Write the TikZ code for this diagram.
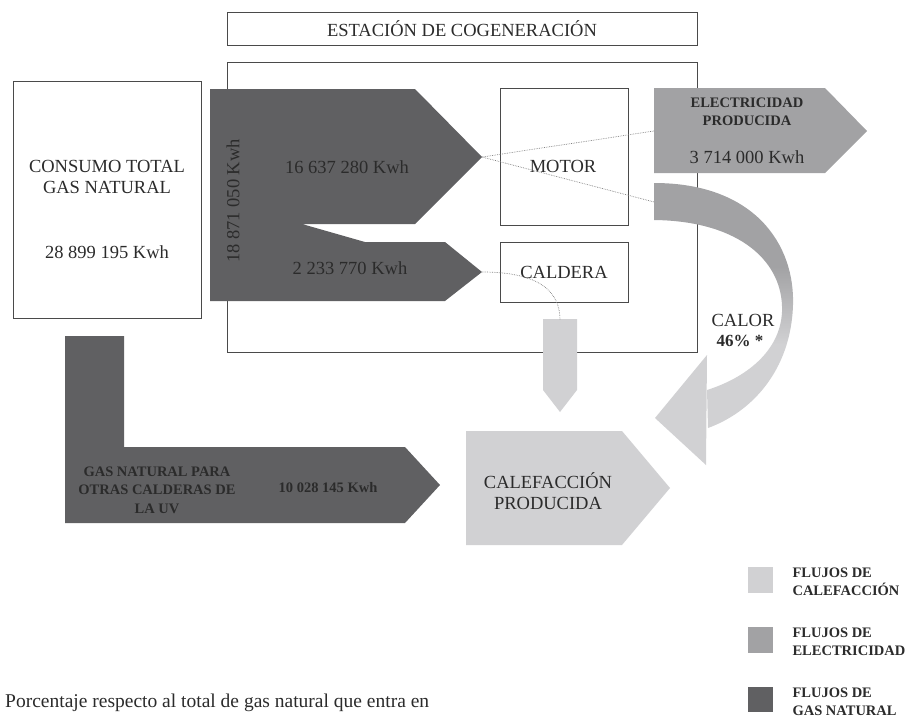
\documentclass[tikz,border=0pt]{standalone}
\usepackage{fontspec}
\setmainfont{Liberation Serif}
\usepackage{xcolor}
\usetikzlibrary{positioning}
\definecolor{gasgray}{HTML}{606062}
\definecolor{elecgray}{HTML}{A2A2A4}
\definecolor{heatgray}{HTML}{D1D1D3}
\definecolor{inkgray}{HTML}{2B2B2B}
\definecolor{framegray}{HTML}{4A4A4A}
\pgfdeclareverticalshading{calorshade}{100bp}{color(0bp)=(heatgray); color(42bp)=(heatgray); color(58bp)=(elecgray); color(100bp)=(elecgray)}
\tikzset{
	frame/.style={draw=framegray, line width=0.8pt},
	flowtext/.style={text=inkgray, align=center, font=\fontsize{18.5}{21}\selectfont},
	boldtext/.style={text=inkgray, align=center, font=\bfseries\fontsize{14.5}{18.5}\selectfont},
	dotline/.style={draw=gray, densely dotted, line width=0.7pt}
}

\begin{document}
\begin{tikzpicture}[x=1pt, y=-1pt]
		\useasboundingbox (0,0) rectangle (908,718);
		%
		%Estacion de cogeneracion
		\node[frame, flowtext, minimum width=470pt, minimum height=33pt] (title) at (462,28.5) {ESTACIÓN DE COGENERACIÓN};
		\node[frame, minimum width=470pt, minimum height=290pt] (station) at (462,207) {};
		%
		%Consumo total
		\node[frame, minimum width=188pt, minimum height=237pt] (consumo) at (107,199.5) {};
		\node[flowtext] (consumotxt) at (107,177) {CONSUMO TOTAL\\GAS NATURAL};
		\node[flowtext] (consumokwh) at (107,252) {28 899 195 Kwh};
		%
		%Gas natural a la estacion
		\fill[gasgray] (210,89) -- (415,89) -- (482,157) coordinate (motorin) -- (415,224) -- (302,224) -- (365,242) -- (445,242) -- (482,272) coordinate (calderain) -- (445,301) -- (210,301) -- cycle;
		\node[flowtext, rotate=90] (gastotal) at (233,201) {18 871 050 Kwh};
		\node[flowtext] (gasmotor) at (347,167) {16 637 280 Kwh};
		\node[flowtext] (gascaldera) at (350,268) {2 233 770 Kwh};
		%
		%Motor y caldera
		\node[frame, minimum width=128pt, minimum height=137pt] (motor) at (564,156.5) {};
		\node[flowtext] (motortxt) at (563,166) {MOTOR};
		\node[frame, flowtext, minimum width=128pt, minimum height=60pt] (caldera) at (564,272) {CALDERA};
		%
		%Electricidad
		\fill[elecgray] (654,88) -- (825,88) -- (867,131) -- (825,173) -- (654,173) -- cycle;
		\coordinate (elecin) at (654,131);
		\node[boldtext] (electxt) at (747,112) {ELECTRICIDAD\\PRODUCIDA};
		\node[flowtext] (eleckwh) at (747,157) {3 714 000 Kwh};
		%
		%Calor
		\shade[shading=calorshade] (654,183) .. controls (755,183) and (795,245) .. (793,305) .. controls (791,370) and (752,412) .. (708,428) -- (707,390) .. controls (745,378) and (780,352) .. (782,312) .. controls (784,262) and (740,221) .. (654,220) -- cycle;
		\fill[heatgray] (707,355) -- (655,418) -- (706,465) -- cycle;
		\coordinate (calorin) at (654,202);
		\node[flowtext] (calortxt) at (743,320) {CALOR};
		\node[flowtext, font=\bfseries\fontsize{17}{20}\selectfont] (calorpct) at (740,341) {46\% *};
		%
		%Calor de la caldera
		\fill[heatgray] (543,319) -- (577,319) -- (577,390) -- (560,412) -- (543,390) -- cycle;
		\coordinate (calderaout) at (560,320);
		%
		%Calefaccion producida
		\fill[heatgray] (466,431) -- (622,431) -- (670,488) -- (622,545) -- (466,545) -- cycle;
		\node[flowtext] (calefaccion) at (548,491) {CALEFACCIÓN\\PRODUCIDA};
		%
		%Gas natural para otras calderas
		\fill[gasgray] (65,336) -- (124,336) -- (124,447) -- (405,447) -- (440,485) -- (405,523) -- (65,523) -- cycle;
		\node[boldtext] (otrastxt) at (157,490) {GAS NATURAL PARA\\OTRAS CALDERAS DE\\LA UV};
		\node[boldtext] (otraskwh) at (328,488) {10 028 145 Kwh};
		%
		%Conexiones
		\draw[dotline] (motorin) -- (elecin);
		\draw[dotline] (motorin) -- (calorin);
		\draw[dotline] (calderain) .. controls (540,272) and (560,292) .. (calderaout);
		%
		%Leyenda
		\fill[heatgray] (748,567) rectangle (773,593);
		\node[boldtext, align=left, anchor=west] (leyheat) at (789,582) {FLUJOS DE\\CALEFACCIÓN};
		\fill[elecgray] (748,627) rectangle (773,653);
		\node[boldtext, align=left, anchor=west] (leyelec) at (789,642) {FLUJOS DE\\ELECTRICIDAD};
		\fill[gasgray] (748,687) rectangle (773,712);
		\node[boldtext, align=left, anchor=west] (leygas) at (789,702) {FLUJOS DE\\GAS NATURAL};
		%
		%Nota
		\node[flowtext, anchor=west, inner sep=0pt, font=\fontsize{19.5}{22}\selectfont] (nota) at (5,703) {Porcentaje respecto al total de gas natural que entra en};
	\end{tikzpicture}
\end{document}
